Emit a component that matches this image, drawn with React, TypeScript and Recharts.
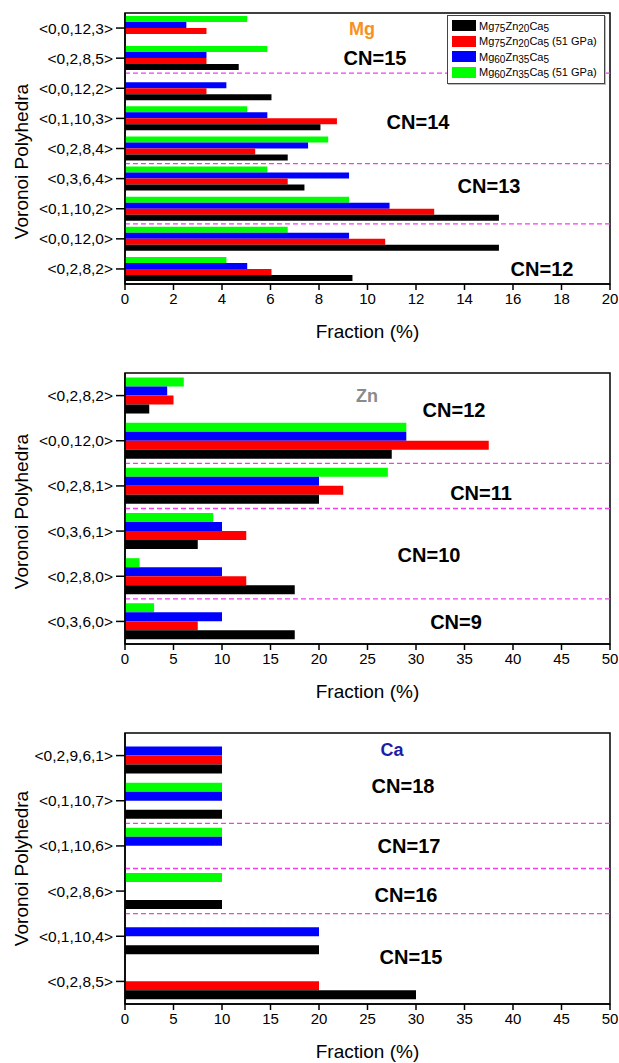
import React from 'react'
import { Bar, BarChart, Legend, ReferenceArea, ReferenceLine, XAxis, YAxis } from 'recharts'

const FONT = '"Liberation Sans", Arial, Helvetica, sans-serif'

// series, listed in legend order
const seriesNames = ['Mg75Zn20Ca5', 'Mg75Zn20Ca5 (51 GPa)', 'Mg60Zn35Ca5', 'Mg60Zn35Ca5 (51 GPa)']
const seriesColors = ['#000000', '#ff0000', '#0000ff', '#00ff00']

// Mg centred polyhedra
const mgPolyhedra = ['<0,0,12,3>', '<0,2,8,5>', '<0,0,12,2>', '<0,1,10,3>', '<0,2,8,4>', '<0,3,6,4>', '<0,1,10,2>', '<0,0,12,0>', '<0,2,8,2>']
const mgA = [0, 4.69, 6.04, 8.06, 6.71, 7.4, 15.42, 15.42, 9.38]
const mgB = [3.36, 3.36, 3.36, 8.74, 5.37, 6.71, 12.75, 10.73, 6.04]
const mgC = [2.53, 3.36, 4.18, 5.87, 7.55, 9.24, 10.91, 9.24, 5.04]
const mgD = [5.04, 5.87, 0, 5.04, 8.38, 5.87, 9.24, 6.71, 4.18]
const mgTicks = [0, 2, 4, 6, 8, 10, 12, 14, 16, 18, 20]
const mgDividers = ['<0,0,12,2>', '<0,3,6,4>', '<0,0,12,0>']
const mgNotes = ['Mg', 'CN=15', 'CN=14', 'CN=13', 'CN=12']

// Zn centred polyhedra
const znPolyhedra = ['<0,2,8,2>', '<0,0,12,0>', '<0,2,8,1>', '<0,3,6,1>', '<0,2,8,0>', '<0,3,6,0>']
const znA = [2.5, 27.5, 20, 7.5, 17.5, 17.5]
const znB = [5, 37.5, 22.5, 12.5, 12.5, 7.5]
const znC = [4.35, 29.0, 20.0, 10.0, 10.0, 10.0]
const znD = [6.06, 29.0, 27.1, 9.1, 1.5, 3.0]
const wideTicks = [0, 5, 10, 15, 20, 25, 30, 35, 40, 45, 50]
const znDividers = ['<0,2,8,1>', '<0,3,6,1>', '<0,3,6,0>']
const znNotes = ['Zn', 'CN=12', 'CN=11', 'CN=10', 'CN=9']

// Ca centred polyhedra
const caPolyhedra = ['<0,2,9,6,1>', '<0,1,10,7>', '<0,1,10,6>', '<0,2,8,6>', '<0,1,10,4>', '<0,2,8,5>']
const caA = [10, 10, 0, 10, 20, 30]
const caB = [10, 0, 0, 0, 0, 20]
const caC = [10, 10, 10, 0, 20, 0]
const caD = [0, 10, 10, 10, 0, 0]
const caDividers = ['<0,1,10,6>', '<0,2,8,6>', '<0,1,10,4>']
const caNotes = ['Ca', 'CN=18', 'CN=17', 'CN=16', 'CN=15']

// where the annotations sit (centre, relative to each panel) and how they look
const notePos = {
  Mg: [[362, 29], [375, 58], [418, 122], [489, 186], [542, 269]],
  Zn: [[367, 36], [454, 50], [481, 133], [429, 195], [456, 262]],
  Ca: [[392, 30], [403, 66], [409, 126], [406, 175], [411, 237]],
}
const titleColor = { Mg: '#f7901e', Zn: '#8a8a8a', Ca: '#1c1ca8' }

const buildRows = (names: string[], a: number[], b: number[], c: number[], d: number[]) =>
  names.map((name, i) => ({ name, a: a[i], b: b[i], c: c[i], d: d[i] }))

function Formula({ text }: { text: string }) {
  const [formula, suffix] = text.split(' (')
  const parts = formula.match(/[A-Za-z]+|\d+/g) || []
  return (
    <span>
      {parts.map((p, i) =>
        /\d/.test(p) ? (
          <span key={i} style={{ fontSize: 10, position: 'relative', top: 2 }}>{p}</span>
        ) : (
          <span key={i}>{p}</span>
        ),
      )}
      {suffix ? ` (${suffix}` : ''}
    </span>
  )
}

function LegendBox() {
  return (
    <div
      style={{
        background: '#fff',
        border: '1px solid #444',
        boxShadow: '1px 1px 0 #bbb',
        padding: '2px 4px 3px 4px',
        fontFamily: FONT,
        fontSize: 11,
        color: '#000',
      }}
    >
      {seriesNames.map((n, i) => (
        <div key={n} style={{ display: 'flex', alignItems: 'center', height: 15.5 }}>
          <span style={{ width: 24, height: 11, background: seriesColors[i], marginRight: 3, flex: 'none' }} />
          <Formula text={n} />
        </div>
      ))}
    </div>
  )
}

type PanelProps = {
  element: 'Mg' | 'Zn' | 'Ca'
  rows: { name: string; a: number; b: number; c: number; d: number }[]
  ticks: number[]
  dividers: string[]
  notes: string[]
  showLegend?: boolean
  labelShift?: number
}

function Panel({ element, rows, ticks, dividers, notes, showLegend, labelShift = 0 }: PanelProps) {
  const axisStyle = { stroke: '#000', strokeWidth: 1.5 }
  const xMax = ticks[ticks.length - 1]
  return (
    <div style={{ position: 'relative', width: 619, height: 350 }}>
      <BarChart
        width={619}
        height={350}
        data={rows}
        layout="vertical"
        margin={{ top: 13, right: 9, bottom: 0, left: 0 }}
        barCategoryGap="10%"
        barGap={0}
      >
        <XAxis
          type="number"
          domain={[0, xMax]}
          ticks={ticks}
          height={66}
          tickSize={6}
          tickMargin={3}
          axisLine={axisStyle}
          tickLine={axisStyle}
          tick={{ fill: '#000', fontSize: 15, fontFamily: FONT }}
          label={{
            value: 'Fraction (%)',
            position: 'insideBottom',
            offset: 12,
            style: { fill: '#000', fontSize: 19, fontFamily: FONT },
          }}
        />
        <YAxis
          type="category"
          dataKey="name"
          width={125}
          interval={0}
          tickSize={9}
          tickMargin={3}
          axisLine={axisStyle}
          tickLine={axisStyle}
          tick={{ fill: '#000', fontSize: 15.5, fontFamily: FONT }}
          label={{
            content: (p: any) => {
              const vb = p.viewBox || {}
              const cy = vb.y + vb.height / 2 + labelShift
              return (
                <text
                  x={21}
                  y={cy}
                  transform={`rotate(-90, 21, ${cy})`}
                  textAnchor="middle"
                  dominantBaseline="central"
                  style={{ fill: '#000', fontSize: 19, fontFamily: FONT }}
                >
                  Voronoi Polyhedra
                </text>
              )
            },
          }}
        />
        {/* plot frame */}
        <ReferenceArea x1={0} x2={xMax} fill="none" stroke="#000" strokeWidth={1.5} fillOpacity={0} />
        {dividers.map((d) => (
          <ReferenceLine key={d} y={d} position="start" stroke="#f23cf2" strokeWidth={1.3} strokeDasharray="5 3" />
        ))}
        <Bar dataKey="d" fill={seriesColors[3]} isAnimationActive={false} />
        <Bar dataKey="c" fill={seriesColors[2]} isAnimationActive={false} />
        <Bar dataKey="b" fill={seriesColors[1]} isAnimationActive={false} />
        <Bar dataKey="a" fill={seriesColors[0]} isAnimationActive={false} />
        {showLegend && (
          <Legend
            layout="vertical"
            align="center"
            verticalAlign="middle"
            content={() => <LegendBox />}
            wrapperStyle={{ position: 'absolute', top: 15, left: 447, width: 158, height: 'auto' }}
          />
        )}
      </BarChart>
      {notes.map((n, i) => {
        const [x, y] = notePos[element][i]
        const isTitle = i === 0
        return (
          <div
            key={n}
            style={{
              position: 'absolute',
              left: x,
              top: y,
              transform: 'translate(-50%, -50%)',
              fontFamily: FONT,
              fontWeight: 'bold',
              fontSize: isTitle ? 18 : 20,
              color: isTitle ? titleColor[element] : '#000',
              whiteSpace: 'nowrap',
              pointerEvents: 'none',
            }}
          >
            {n}
          </div>
        )
      })}
    </div>
  )
}

export default function App() {
  return (
    <div style={{ position: 'absolute', left: 0, top: 0, width: 619, height: 1063, background: '#fff', overflow: 'hidden' }}>
      <div style={{ position: 'absolute', left: 0, top: 0 }}>
        <Panel element="Mg" rows={buildRows(mgPolyhedra, mgA, mgB, mgC, mgD)} ticks={mgTicks} dividers={mgDividers} notes={mgNotes} showLegend labelShift={13} />
      </div>
      <div style={{ position: 'absolute', left: 0, top: 360 }}>
        <Panel element="Zn" rows={buildRows(znPolyhedra, znA, znB, znC, znD)} ticks={wideTicks} dividers={znDividers} notes={znNotes} labelShift={3} />
      </div>
      <div style={{ position: 'absolute', left: 0, top: 720 }}>
        <Panel element="Ca" rows={buildRows(caPolyhedra, caA, caB, caC, caD)} ticks={wideTicks} dividers={caDividers} notes={caNotes} />
      </div>
    </div>
  )
}
